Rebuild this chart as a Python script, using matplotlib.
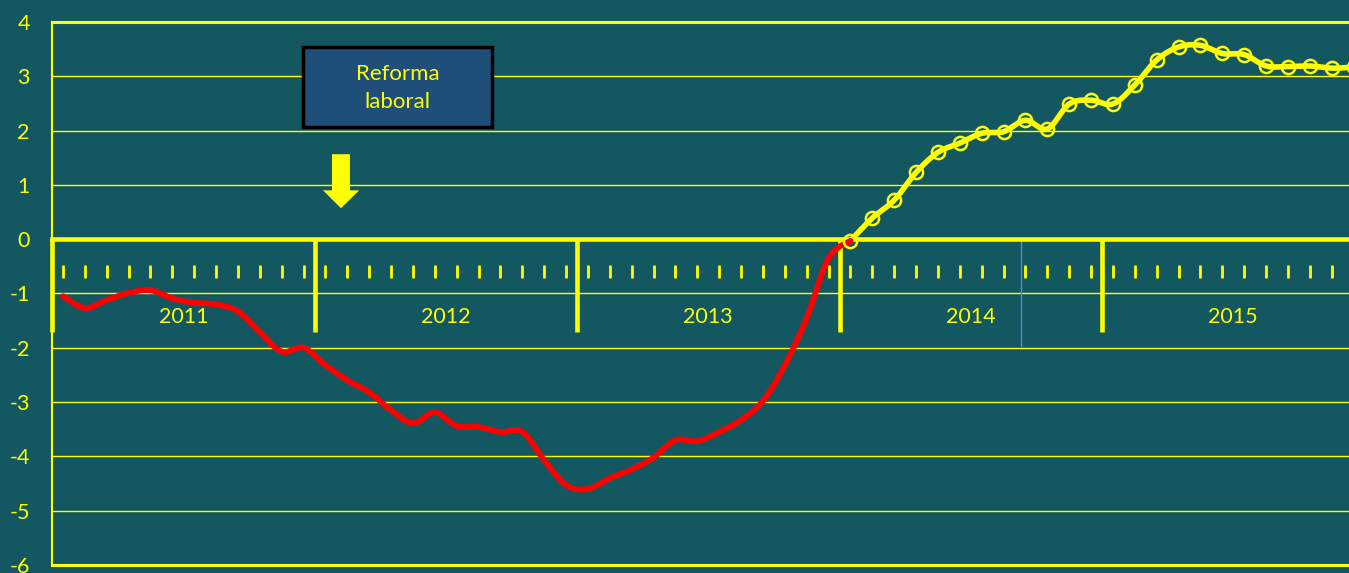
import numpy as np
import matplotlib
matplotlib.use('Agg')
import matplotlib.pyplot as plt
from matplotlib.patches import Rectangle, Polygon

# ---------------- data ----------------
years = ['2011', '2012', '2013', '2014', '2015']
# monthly values Jan 2011 .. Jan 2014
red_values = [-1.05, -1.27, -1.12, -0.99, -0.94, -1.09, -1.17, -1.20, -1.33, -1.71,
              -2.07, -2.00, -2.32, -2.60, -2.82, -3.15, -3.39, -3.19, -3.44, -3.46,
              -3.55, -3.55, -4.07, -4.53, -4.60, -4.40, -4.24, -4.02, -3.70, -3.72,
              -3.55, -3.33, -2.98, -2.32, -1.45, -0.35, -0.03]
# monthly values Jan 2014 .. Dec 2015
yellow_values = [-0.03, 0.39, 0.72, 1.23, 1.60, 1.77, 1.95, 1.98, 2.19, 2.03,
                 2.49, 2.56, 2.49, 2.84, 3.30, 3.54, 3.57, 3.42, 3.40, 3.19,
                 3.18, 3.19, 3.15, 3.17]
y_ticks = [4, 3, 2, 1, 0, -1, -2, -3, -4, -5, -6]
annotation_text = 'Reforma\nlaboral'

BG = '#135761'
YEL = '#ffff00'
FONT = ['Lato', 'DejaVu Sans']


def smooth(x, y, n=16):
    P = np.column_stack([np.asarray(x, float), np.asarray(y, float)])
    P = np.vstack([P[0], P, P[-1]])
    segs = []
    t = np.linspace(0, 1, n, endpoint=False)[:, None]
    for i in range(1, len(P) - 2):
        p0, p1, p2, p3 = P[i - 1], P[i], P[i + 1], P[i + 2]
        seg = 0.5 * (2 * p1 + (-p0 + p2) * t + (2 * p0 - 5 * p1 + 4 * p2 - p3) * t ** 2
                     + (-p0 + 3 * p1 - 3 * p2 + p3) * t ** 3)
        segs.append(seg)
    segs.append(P[-2][None, :])
    S = np.vstack(segs)
    return S[:, 0], S[:, 1]


fig = plt.figure(figsize=(13.49, 5.73), dpi=100, facecolor=BG)
ax = fig.add_axes([52 / 1349, 8 / 573, 1 - 52 / 1349, (565 - 22) / 573])
ax.set_facecolor(BG)

n_months = 12 * len(years)
ax.set_xlim(-0.5, 58.79)
ax.set_ylim(-6, 4)
for s in ax.spines.values():
    s.set_visible(False)

# grid lines
for v in y_ticks:
    if v == 0:
        continue
    lw = 2.2 if v in (4, -6) else 1.0
    ax.axhline(v, color=YEL, lw=lw, zorder=1, clip_on=False)

# left axis line
ax.axvline(-0.5, color=YEL, lw=1.5, zorder=2, clip_on=False)

# zero category axis
ax.axhline(0, color=YEL, lw=3.3, zorder=3, clip_on=False)
sep_bottom = -1.71
for k in range(len(years)):
    xb = -0.5 + 12 * k
    ax.plot([xb, xb], [0, sep_bottom], color=YEL, lw=3.3, zorder=3,
            solid_capstyle='butt', clip_on=False)
    ax.text(xb + 6, -1.43, years[k], color=YEL, fontsize=15.5, family=FONT,
            ha='center', va='center', zorder=4)
months = np.arange(n_months)
ax.vlines(months, -0.48, -0.72, color=YEL, lw=2, zorder=3)
# thin blue marker line
ax.plot([43.8, 43.8], [0, -1.97], color='#5b8fc0', lw=1, zorder=2)

# y tick labels
ax.set_yticks(y_ticks)
ax.set_yticklabels([str(v) for v in y_ticks])
ax.tick_params(axis='y', length=0, pad=16, labelcolor=YEL, labelsize=15.5)
for lab in ax.get_yticklabels():
    lab.set_family(FONT)
ax.set_xticks([])

# series
yx = np.arange(36, 36 + len(yellow_values))
sx, sy = smooth(yx, yellow_values)
ax.plot(sx, sy, color=YEL, lw=4, zorder=5, solid_capstyle='round')
rx = np.arange(len(red_values))
sx, sy = smooth(rx, red_values)
ax.plot(sx, sy, color='#ff0000', lw=4.2, zorder=6, solid_capstyle='round')
ax.plot(yx, yellow_values, ls='none', marker='o', ms=9.5, mfc='none',
        mec=YEL, mew=1.8, zorder=7)

# annotation box and arrow
ax.add_patch(Rectangle((10.99, 2.06), 8.64, 1.48, facecolor='#1f4e79',
                       edgecolor='black', lw=2.5, zorder=8))
ax.text(15.31, 2.79, annotation_text, color=YEL, fontsize=16, family=FONT,
        ha='center', va='center', linespacing=1.5, zorder=9)
ax.add_patch(Polygon([(12.30, 1.565), (13.12, 1.565), (13.12, 0.90), (13.54, 0.90),
                      (12.71, 0.57), (11.89, 0.90), (12.30, 0.90)],
                     closed=True, facecolor=YEL, edgecolor='none', zorder=8))

fig.savefig('out.png', dpi=100, facecolor=BG)
